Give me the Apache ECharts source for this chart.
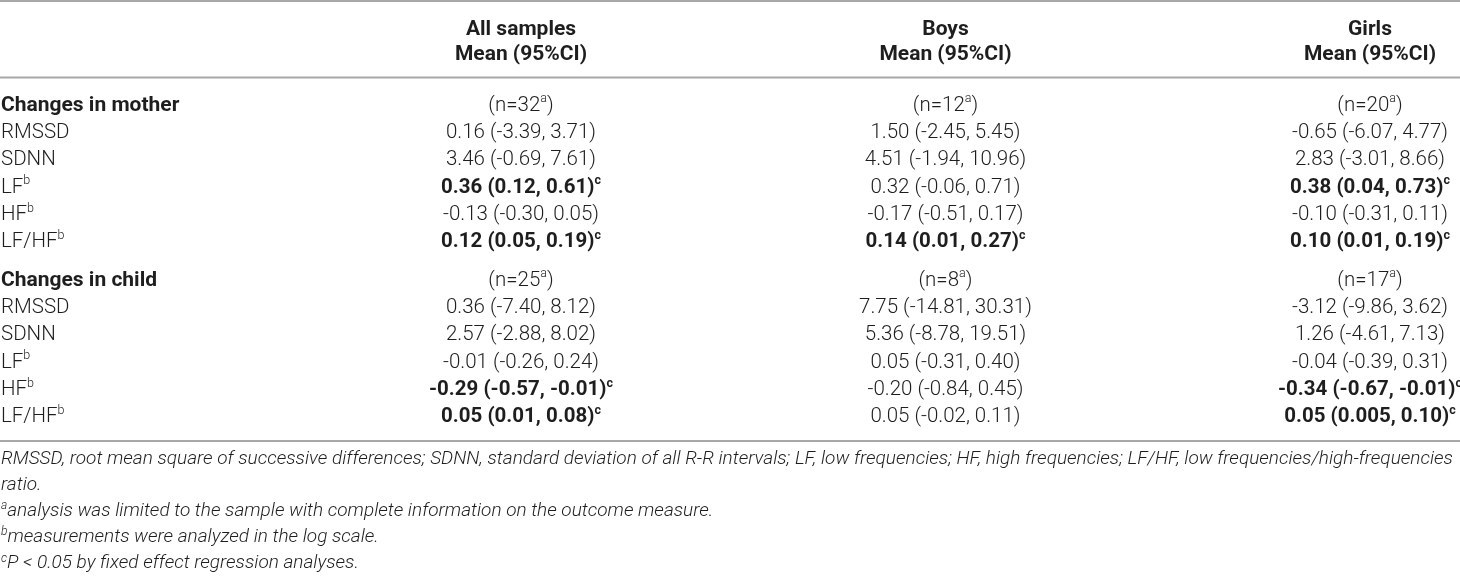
<!DOCTYPE html>
<html>
<head>
<meta charset="utf-8">
<script src="https://cdn.jsdelivr.net/npm/echarts@6/dist/echarts.min.js"></script>
<style>
html, body { margin: 0; padding: 0; background: #ffffff; }
#chart { width: 1460px; height: 576px; }
</style>
</head>
<body>
<div id="chart"></div>
<script>
// ---------------- data ----------------
const groups = ['All samples', 'Boys', 'Girls'];
const statHeader = 'Mean (95%CI)';
const sections = ['Changes in mother', 'Changes in child'];
const sampleSizes = [[32, 12, 20], [25, 8, 17]];
const measures = ['RMSSD', 'SDNN', 'LF', 'HF', 'LF/HF'];
const measureNote = ['', '', 'b', 'b', 'b'];

const motherAll   = ['0.16 (-3.39, 3.71)', '3.46 (-0.69, 7.61)', '0.36 (0.12, 0.61)', '-0.13 (-0.30, 0.05)', '0.12 (0.05, 0.19)'];
const motherBoys  = ['1.50 (-2.45, 5.45)', '4.51 (-1.94, 10.96)', '0.32 (-0.06, 0.71)', '-0.17 (-0.51, 0.17)', '0.14 (0.01, 0.27)'];
const motherGirls = ['-0.65 (-6.07, 4.77)', '2.83 (-3.01, 8.66)', '0.38 (0.04, 0.73)', '-0.10 (-0.31, 0.11)', '0.10 (0.01, 0.19)'];
const childAll    = ['0.36 (-7.40, 8.12)', '2.57 (-2.88, 8.02)', '-0.01 (-0.26, 0.24)', '-0.29 (-0.57, -0.01)', '0.05 (0.01, 0.08)'];
const childBoys   = ['7.75 (-14.81, 30.31)', '5.36 (-8.78, 19.51)', '0.05 (-0.31, 0.40)', '-0.20 (-0.84, 0.45)', '0.05 (-0.02, 0.11)'];
const childGirls  = ['-3.12 (-9.86, 3.62)', '1.26 (-4.61, 7.13)', '-0.04 (-0.39, 0.31)', '-0.34 (-0.67, -0.01)', '0.05 (0.005, 0.10)'];

const motherSignificant = [[0, 0, 1, 0, 1], [0, 0, 0, 0, 1], [0, 0, 1, 0, 1]];
const childSignificant  = [[0, 0, 0, 1, 1], [0, 0, 0, 0, 0], [0, 0, 0, 1, 1]];
const significanceNote = 'c';
const sampleNote = 'a';

const footnoteMarks = ['', '', 'a', 'b', 'c'];
const footnoteTexts = [
  'RMSSD, root mean square of successive differences; SDNN, standard deviation of all R-R intervals; LF, low frequencies; HF, high frequencies; LF/HF, low frequencies/high-frequencies',
  'ratio.',
  'analysis was limited to the sample with complete information on the outcome measure.',
  'measurements were analyzed in the log scale.',
  'P < 0.05 by fixed effect regression analyses.'
];

// ---------------- layout / style ----------------
const ROW_PX = 27.35;
const FIRST_ROW_PX = 105.5;
const SECTION_GAP = 0.40;
const Y_MIN = -FIRST_ROW_PX / ROW_PX;
const Y_MAX = Y_MIN + 576 / ROW_PX;
const HEADER_POS = [-2.78, -1.865];
const RULE_POS = [-3.82, -1.02, 12.27];
const FOOT_START = 12.92, FOOT_STEP = 0.958;
const LEFT_PAD = 1;

const FAM = 'Roboto, "Liberation Sans", Arial, sans-serif';
const INK = '#1e1e1e';
const RULE = '#a8a8a8';
const RICH = {
  r:  { font: '300 20.5px ' + FAM, fill: INK, lineHeight: 26 },
  b:  { font: 'bold 20.5px ' + FAM, fill: INK, lineHeight: 26 },
  h:  { font: 'bold 21px ' + FAM, fill: INK, lineHeight: 26 },
  s:  { font: '300 12.5px ' + FAM, fill: INK, lineHeight: 12, verticalAlign: 'top' },
  sb: { font: 'bold 12.5px ' + FAM, fill: INK, lineHeight: 12, verticalAlign: 'top' },
  i:  { font: 'italic 300 19px ' + FAM, fill: INK, lineHeight: 22 },
  si: { font: 'italic 300 12px ' + FAM, fill: INK, lineHeight: 11, verticalAlign: 'top' }
};

// ---------------- build cells ----------------
const sectionValues = [[motherAll, motherBoys, motherGirls], [childAll, childBoys, childGirls]];
const sectionSig = [motherSignificant, childSignificant];

const cellData = [];   // [col, pos]
const cellText = [];
groups.forEach(function (g, c) {
  cellData.push([c, HEADER_POS[0]]); cellText.push('{h|' + g + '}');
  cellData.push([c, HEADER_POS[1]]); cellText.push('{h|' + statHeader + '}');
});

const labelData = [];
const labelText = [];
sections.forEach(function (sec, s) {
  const base = s * (measures.length + 1 + SECTION_GAP);
  labelData.push([0, base]); labelText.push('{h|' + sec + '}');
  groups.forEach(function (g, c) {
    cellData.push([c, base]);
    cellText.push('{r|(n=' + sampleSizes[s][c] + '}{s|' + sampleNote + '}{r|)}');
  });
  measures.forEach(function (m, k) {
    const pos = base + k + 1;
    labelData.push([0, pos]);
    labelText.push('{r|' + m + '}' + (measureNote[k] ? '{s|' + measureNote[k] + '}' : ''));
    groups.forEach(function (g, c) {
      cellData.push([c, pos]);
      const v = sectionValues[s][c][k];
      cellText.push(sectionSig[s][c][k] ? '{b|' + v + '}{sb|' + significanceNote + '}' : '{r|' + v + '}');
    });
  });
});

footnoteTexts.forEach(function (t, k) {
  labelData.push([0, FOOT_START + k * FOOT_STEP]);
  labelText.push((footnoteMarks[k] ? '{si|' + footnoteMarks[k] + '}' : '') + '{i|' + t + '}');
});

function textRenderer(texts, align, pad) {
  return function (params, api) {
    const p = api.coord([api.value(0), api.value(1)]);
    return {
      type: 'text',
      x: p[0] + pad,
      y: p[1],
      style: {
        text: texts[params.dataIndex],
        rich: RICH,
        font: RICH.r.font,
        fill: INK,
        align: align,
        verticalAlign: 'middle'
      }
    };
  };
}

const chart = echarts.init(document.getElementById('chart'), null, { renderer: 'canvas' });
chart.setOption({
  animation: false,
  backgroundColor: '#ffffff',
  grid: [
    { left: 521, right: 90, top: 0, bottom: 0 },
    { left: 0, right: 0, top: 0, bottom: 0 }
  ],
  xAxis: [
    { type: 'category', gridIndex: 0, data: groups, boundaryGap: false, show: false },
    { type: 'value', gridIndex: 1, min: 0, max: 1, show: false }
  ],
  yAxis: [
    { type: 'value', gridIndex: 0, inverse: true, min: Y_MIN, max: Y_MAX, show: false },
    { type: 'value', gridIndex: 1, inverse: true, min: Y_MIN, max: Y_MAX, show: false }
  ],
  series: [
    {
      type: 'custom', name: 'cells', xAxisIndex: 0, yAxisIndex: 0,
      data: cellData, renderItem: textRenderer(cellText, 'center', 0), silent: true
    },
    {
      type: 'custom', name: 'rowLabels', xAxisIndex: 1, yAxisIndex: 1,
      data: labelData, renderItem: textRenderer(labelText, 'left', LEFT_PAD), silent: true
    },
    {
      type: 'custom', name: 'rules', xAxisIndex: 1, yAxisIndex: 1, silent: true,
      data: RULE_POS.map(function (p) { return [0, p]; }),
      renderItem: function (params, api) {
        const cs = params.coordSys;
        const y = api.coord([0, api.value(1)])[1];
        return {
          type: 'line',
          shape: { x1: cs.x, y1: y, x2: cs.x + cs.width, y2: y },
          style: { stroke: RULE, lineWidth: 2 }
        };
      }
    }
  ]
});
</script>
</body>
</html>
